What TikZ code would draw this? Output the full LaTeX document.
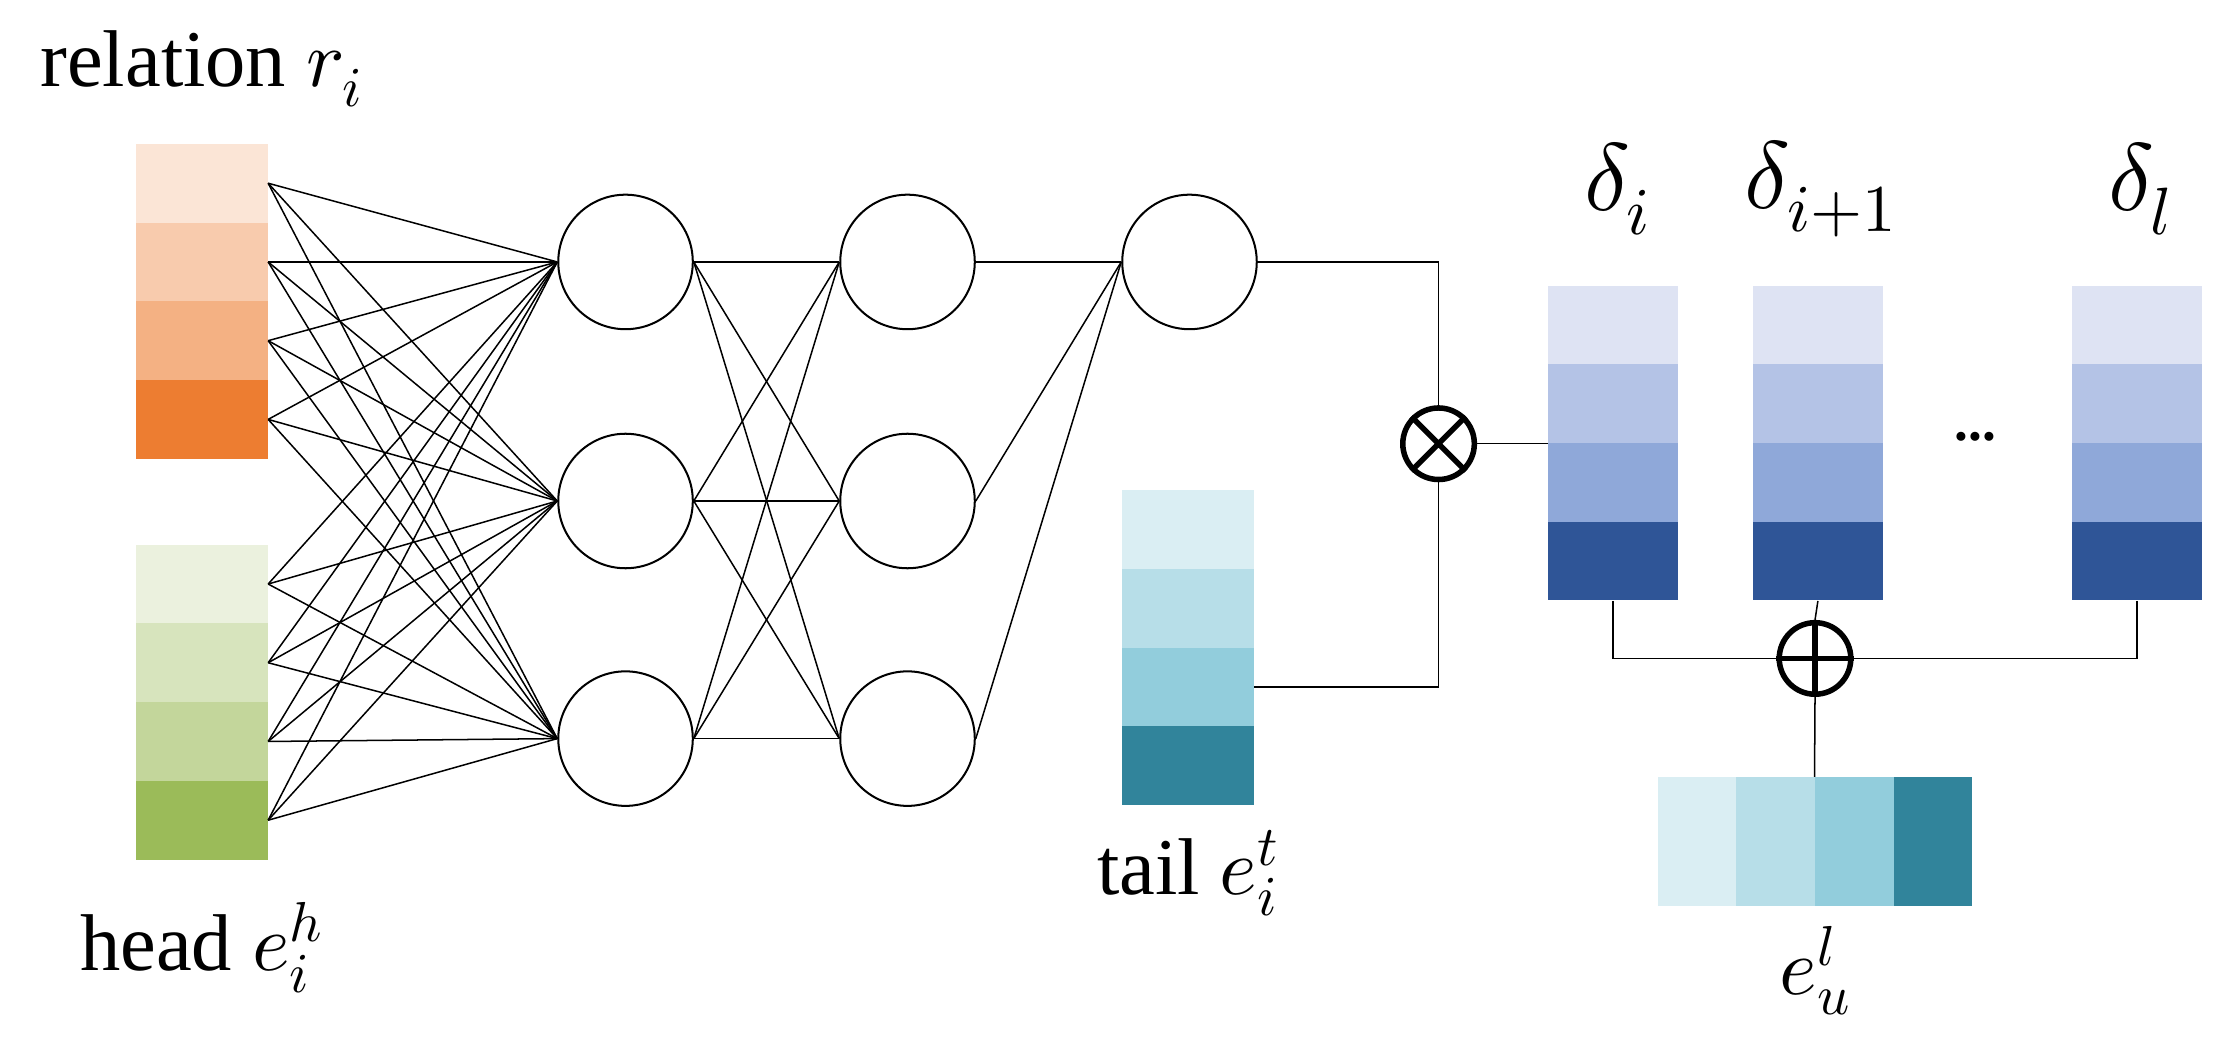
\documentclass[tikz,border=0pt]{standalone}
\usepackage{fontspec}
\setmainfont{Liberation Serif}
\usepackage{unicode-math}
\setmathfont{Latin Modern Math}
\begin{document}
\begin{tikzpicture}[x=0.02cm,y=-0.02cm,
  neuron/.style={circle,draw,line width=0.8pt,minimum size=1.88cm,inner sep=0},
  op/.style={circle,draw,line width=2.2pt,minimum size=1.0cm,inner sep=0},
  lbl/.style={font=\fontsize{32}{36}\selectfont},
  dl/.style={font=\fontsize{38}{42}\selectfont},
  cell/.style={minimum width=1.84cm,minimum height=1.1cm,inner sep=0,draw=none},
  w/.style={line width=0.6pt}]
\useasboundingbox (0,0) rectangle (1560,727);
\definecolor{r1}{HTML}{FBE5D6}\definecolor{r2}{HTML}{F8CBAD}\definecolor{r3}{HTML}{F4B183}\definecolor{r4}{HTML}{ED7D31}
\definecolor{g1}{HTML}{EBF1DE}\definecolor{g2}{HTML}{D7E4BD}\definecolor{g3}{HTML}{C3D69B}\definecolor{g4}{HTML}{9BBB59}
\definecolor{t1}{HTML}{DAEEF3}\definecolor{t2}{HTML}{B7DEE8}\definecolor{t3}{HTML}{92CDDC}\definecolor{t4}{HTML}{31849B}
\definecolor{b1}{HTML}{DEE3F3}\definecolor{b2}{HTML}{B4C3E6}\definecolor{b3}{HTML}{8FA8D9}\definecolor{b4}{HTML}{2F5597}
\foreach \i/\c in {1/r1,2/r2,3/r3,4/r4}{\node[cell,fill=\c] (r\i) at (141,{73+55*\i}) {};}
\foreach \i/\c in {1/g1,2/g2,3/g3,4/g4}{\node[cell,fill=\c] (h\i) at (141,{353+55*\i}) {};}
\foreach \i/\c in {1/t1,2/t2,3/t3,4/t4}{\node[cell,fill=\c] (t\i) at (830,{315+55*\i}) {};}
\foreach \k/\x in {a/1127,b/1270,c/1493}{
  \foreach \i/\c in {1/b1,2/b2,3/b3,4/b4}{\node[cell,minimum width=1.82cm,fill=\c] (d\k\i) at (\x,{172+55*\i}) {};}}
\foreach \i/\c in {1/t1,2/t2,3/t3,4/t4}{\node[cell,minimum width=1.1cm,minimum height=1.8cm,fill=\c] (u\i) at ({1158+55*\i-27.5},588) {};}
\foreach \j/\y in {1/183,2/350,3/516}{
  \node[neuron] (a\j) at (437,\y) {};
  \node[neuron] (b\j) at (634,\y) {};}
\node[neuron] (c1) at (831,183) {};
\foreach \s in {r1,r2,r3,r4,h1,h2,h3,h4}{\foreach \j in {1,2,3}{\draw[w] (\s.east) -- (a\j.west);}}
\foreach \i in {1,2,3}{\foreach \j in {1,2,3}{\draw[w] (a\i.east) -- (b\j.west);}}
\foreach \j in {1,2,3}{\draw[w] (b\j.east) -- (c1.west);}
\node[op] (ot) at (1005,310) {};
\draw[line width=2.2pt] (ot.north west) -- (ot.south east) (ot.north east) -- (ot.south west);
\draw[w] (c1.east) -| (ot.north);
\draw[w] (t3.east) -| (ot.south);
\draw[w] (ot.east) -- (ot.east -| da3.west);
\node[op] (op) at (1268,460) {};
\draw[line width=2.2pt] (op.north) -- (op.south) (op.west) -- (op.east);
\draw[w] (da4.south) |- (op.west);
\draw[w] (dc4.south) |- (op.east);
\draw[w] (db4.south) -- (op.north);
\draw[w] (op.south) -- (u3.north west);
\node[lbl] (lr) at (141,48) {relation $r_i$};
\node[lbl] (lh) at (141,662) {head $e_i^h$};
\node[lbl] (lt) at (830,610) {tail $e_i^t$};
\node[lbl] (lu) at (1268,678) {$e_u^l$};
\node[dl] (la) at (1130,132) {$\delta_i$};
\node[dl] (lb) at (1272,132) {$\delta_{i+1}$};
\node[dl] (lc) at (1495,132) {$\delta_l$};
\node[font=\fontsize{22}{24}\selectfont\bfseries] (dots) at (1380,305) {...};
\end{tikzpicture}
\end{document}
